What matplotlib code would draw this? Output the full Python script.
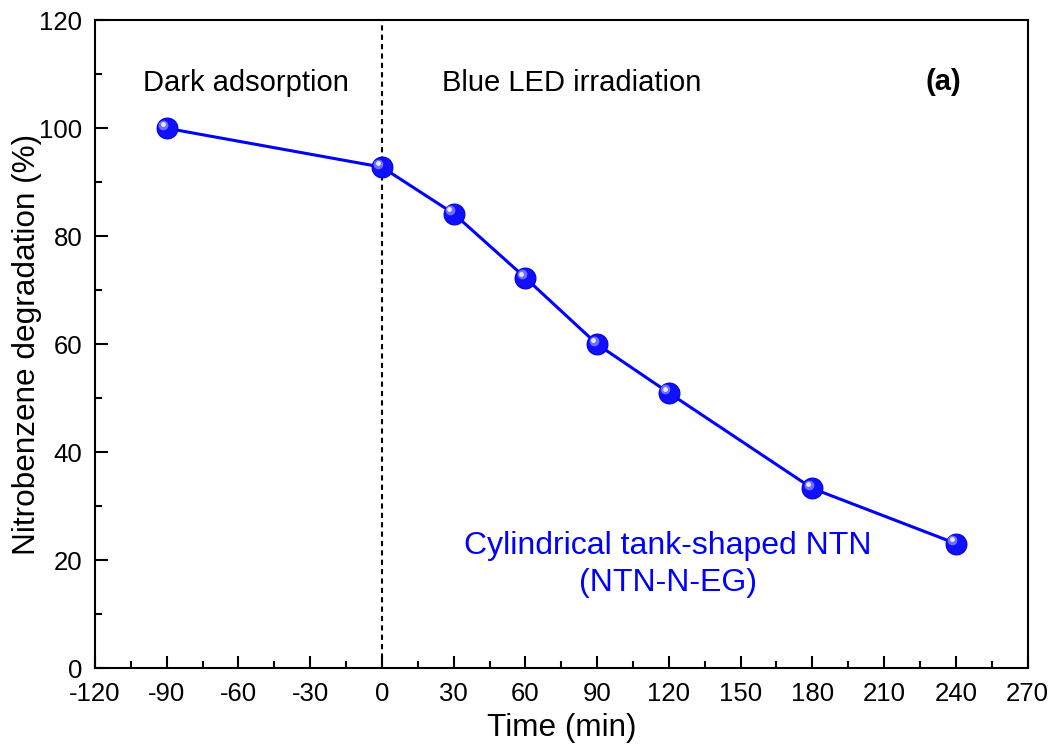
import matplotlib
matplotlib.use("Agg")
import matplotlib.pyplot as plt
import matplotlib.transforms as mtransforms
from matplotlib.ticker import MultipleLocator

plt.rcParams['font.family'] = ['Liberation Sans', 'DejaVu Sans']
plt.rcParams['axes.unicode_minus'] = False

time_min = [-90, 0, 30, 60, 90, 120, 180, 240]
degradation = [100.0, 92.8, 84.2, 72.3, 60.0, 51.0, 33.3, 23.1]
x_ticks = [-120, -90, -60, -30, 0, 30, 60, 90, 120, 150, 180, 210, 240, 270]
y_ticks = [0, 20, 40, 60, 80, 100, 120]

fig = plt.figure(figsize=(10.55, 7.5), dpi=100)
ax = fig.add_axes([0.090, 0.109, 0.884, 0.864])

ax.plot(time_min, degradation, color='#0000FF', lw=2.2, zorder=3)
ax.plot(time_min, degradation, ls='none', marker='o', ms=15, mfc='#1010FF',
        mec='#0000DD', mew=0.8, zorder=4)
# sphere highlight
off = mtransforms.offset_copy(ax.transData, fig=fig, x=-2.5, y=2.5, units='points')
ax.plot(time_min, degradation, ls='none', marker='o', ms=7, mfc='#7070FF',
        mec='none', transform=off, zorder=5)
off2 = mtransforms.offset_copy(ax.transData, fig=fig, x=-3, y=3, units='points')
ax.plot(time_min, degradation, ls='none', marker='o', ms=3.5, mfc='#E8E8FF',
        mec='none', transform=off2, zorder=6)

ax.axvline(0, color='black', ls=(0, (2.5, 2)), lw=1.5, zorder=2)

ax.set_xlim(-120, 270)
ax.set_ylim(0, 120)
ax.set_xticks(x_ticks)
ax.set_yticks(y_ticks)
ax.xaxis.set_minor_locator(MultipleLocator(15))
ax.yaxis.set_minor_locator(MultipleLocator(10))
ax.tick_params(which='both', direction='in', top=False, right=False,
               width=1.5, labelsize=18.5)
ax.tick_params(axis='x', pad=10)
ax.tick_params(axis='y', pad=9)
ax.tick_params(which='major', length=9)
ax.tick_params(which='minor', length=5)
for s in ax.spines.values():
    s.set_linewidth(1.5)

ax.set_xlabel('Time (min)', fontsize=22.7, labelpad=5)
ax.set_ylabel('Nitrobenzene degradation (%)', fontsize=22.7, labelpad=-2)

ax.text(-100, 108.3, 'Dark adsorption', fontsize=21, ha='left', va='center')
ax.text(25, 108.3, 'Blue LED irradiation', fontsize=21, ha='left', va='center')
ax.text(235, 108.5, '(a)', fontsize=21, fontweight='bold', ha='center', va='center')
ax.text(119.5, 22.7, 'Cylindrical tank-shaped NTN', fontsize=23, color='#0000FF',
        ha='center', va='center')
ax.text(119.5, 15.8, '(NTN-N-EG)', fontsize=23, color='#0000FF',
        ha='center', va='center')

fig.savefig('out.png', dpi=100)
